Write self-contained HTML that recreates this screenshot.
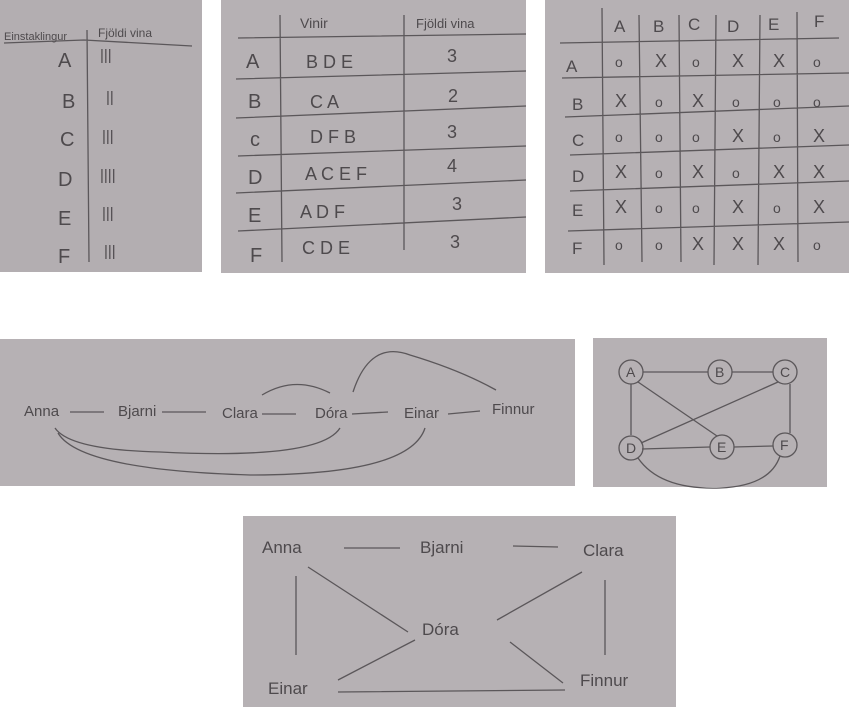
<!DOCTYPE html>
<html><head><meta charset="utf-8"><style>
html,body{margin:0;padding:0;background:#fff;width:849px;height:710px;overflow:hidden}
svg{display:block}
text{font-family:"Liberation Sans",sans-serif;fill:#4e4a4d}
.ln{stroke:#5b575a;stroke-width:1.3;fill:none}
</style></head><body>
<svg width="849" height="710" viewBox="0 0 849 710">
<!-- Panel 1 -->
<g>
<rect x="0" y="0" width="202" height="272" fill="#b3aeb1"/>
<text x="4" y="40" font-size="11">Einstaklingur</text>
<text x="98" y="37" font-size="12">Fjöldi  vina</text>
<path class="ln" d="M4 43 L84 40 L192 46 M87 30 L89 262"/>
<g font-size="20">
<text x="58" y="67">A</text><text x="62" y="108">B</text><text x="60" y="146">C</text>
<text x="58" y="186">D</text><text x="58" y="225">E</text><text x="58" y="263">F</text>
</g>
<g font-size="15">
<text x="100" y="60">|||</text><text x="106" y="102">||</text><text x="102" y="141">|||</text>
<text x="100" y="180">||||</text><text x="102" y="218">|||</text><text x="104" y="256">|||</text>
</g>
</g>
<!-- Panel 2 -->
<g>
<rect x="221" y="0" width="305" height="273" fill="#b6b1b4"/>
<text x="300" y="28" font-size="14">Vinir</text>
<text x="416" y="28" font-size="13">Fjöldi vina</text>
<path class="ln" d="M280 15 L282 262 M404 15 L404 250 M238 38 L526 34 M236 79 L526 71 M236 118 L526 106 M238 156 L526 146 M236 193 L526 180 M238 231 L526 217"/>
<g font-size="20">
<text x="246" y="68">A</text><text x="248" y="108">B</text><text x="250" y="146">c</text>
<text x="248" y="184">D</text><text x="248" y="222">E</text><text x="250" y="262">F</text>
</g>
<g font-size="18">
<text x="306" y="68">B D E</text><text x="310" y="108">C A</text><text x="310" y="143">D F B</text>
<text x="305" y="180">A C E F</text><text x="300" y="218">A D F</text><text x="302" y="254">C D E</text>
<text x="447" y="62">3</text><text x="448" y="102">2</text><text x="447" y="138">3</text>
<text x="447" y="172">4</text><text x="452" y="210">3</text><text x="450" y="248">3</text>
</g>
</g>
<!-- Panel 3 -->
<g>
<rect x="545" y="0" width="304" height="273" fill="#b6b1b4"/>
<path class="ln" d="M602 8 L604 265 M639 15 L642 262 M679 15 L681 262 M716 15 L714 265 M760 15 L758 265 M797 12 L798 262 M560 43 L839 38 M562 78 L849 73 M565 117 L849 106 M570 155 L849 145 M570 191 L849 181 M568 231 L849 222"/>
<g font-size="17">
<text x="614" y="32">A</text><text x="653" y="32">B</text><text x="688" y="30">C</text><text x="727" y="32">D</text><text x="768" y="30">E</text><text x="814" y="27">F</text>
<text x="566" y="72">A</text><text x="572" y="110">B</text><text x="572" y="146">C</text><text x="572" y="182">D</text><text x="572" y="216">E</text><text x="572" y="254">F</text>
</g>
<g font-size="16" id="cells"></g>
</g>
<!-- Panel 4 -->
<g>
<rect x="0" y="339" width="575" height="147" fill="#b6b1b4"/>
<g font-size="15">
<text x="24" y="416">Anna</text><text x="118" y="416">Bjarni</text><text x="222" y="418">Clara</text>
<text x="315" y="418">Dóra</text><text x="404" y="418">Einar</text><text x="492" y="414">Finnur</text>
</g>
<path class="ln" d="M70 412 L104 412 M162 412 L206 412 M262 414 L296 414 M352 414 L388 412 M448 414 L480 411
M262 395 Q295 375 330 393 M353 392 Q370 340 410 355 Q460 370 496 390
M55 428 Q70 450 160 452 Q320 460 340 428 M58 433 Q80 470 250 475 Q410 475 425 428"/>
</g>
<!-- Panel 5 -->
<g>
<rect x="593" y="338" width="234" height="149" fill="#b6b1b4"/>
<path class="ln" d="M643 372 L708 372 M732 372 L773 372 M631 384 L631 435 M638 382 L717 436 M778 382 L641 443 M790 384 L790 433 M642 449 L710 447 M734 447 L773 446 M638 458 Q660 490 720 488 Q770 486 780 456"/>
<g font-size="14">
<circle class="ln" cx="631" cy="372" r="12"/><text x="626" y="377">A</text>
<circle class="ln" cx="720" cy="372" r="12"/><text x="715" y="377">B</text>
<circle class="ln" cx="785" cy="372" r="12"/><text x="780" y="377">C</text>
<circle class="ln" cx="631" cy="448" r="12"/><text x="626" y="453">D</text>
<circle class="ln" cx="722" cy="447" r="12"/><text x="717" y="452">E</text>
<circle class="ln" cx="785" cy="445" r="12"/><text x="780" y="450">F</text>
</g>
</g>
<!-- Panel 6 -->
<g>
<rect x="243" y="516" width="433" height="191" fill="#b6b1b4"/>
<g font-size="17">
<text x="262" y="553">Anna</text><text x="420" y="553">Bjarni</text><text x="583" y="556">Clara</text>
<text x="422" y="635">Dóra</text><text x="268" y="694">Einar</text><text x="580" y="686">Finnur</text>
</g>
<path class="ln" d="M344 548 L400 548 M513 546 L558 547 M296 576 L296 655 M605 580 L605 655 M308 567 L408 632 M582 572 L497 620 M415 640 L338 680 M510 642 L563 683 M338 692 L565 690"/>
</g>
</svg>
<script>
const rows=["A","B","C","D","E","F"];
const matrix=["OXOXXO","XOXOOO","OOOXOX","XOXOXX","XOOXOX","OOXXXO"];
const colX=[620,660,697,737,778,818];
const rowY=[67,107,142,178,213,250];
const g=document.getElementById('cells');
matrix.forEach((r,i)=>{[...r].forEach((c,j)=>{
 const t=document.createElementNS('http://www.w3.org/2000/svg','text');
 
 
 t.setAttribute('x',colX[j]-5);t.setAttribute('y',rowY[i]);
 t.setAttribute('font-size',c==='X'?18:14);
 t.textContent=c==='X'?'X':'o';g.appendChild(t);});});
</script>
</body></html>
